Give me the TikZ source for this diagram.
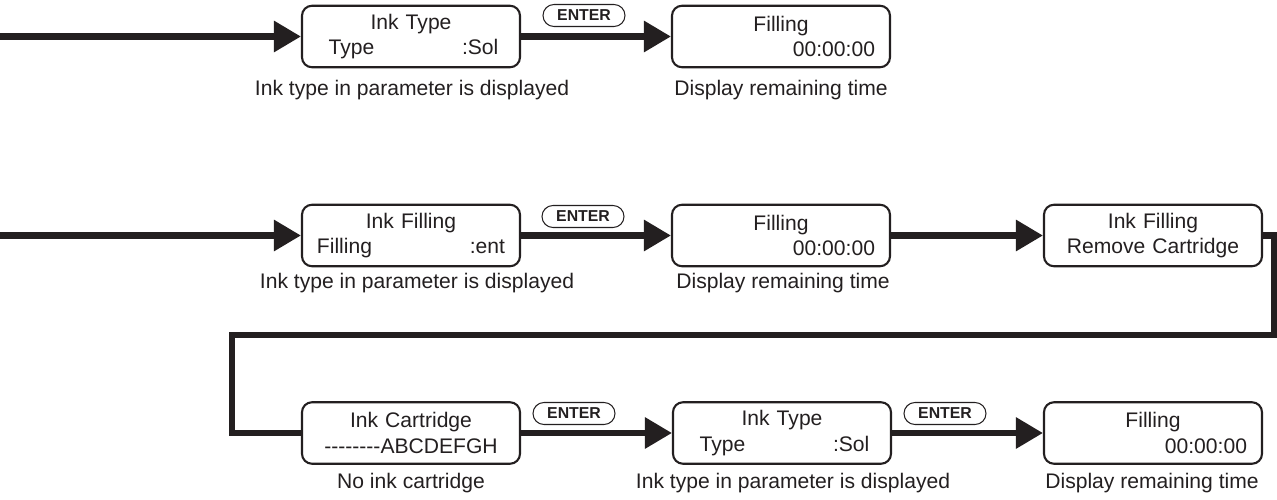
\documentclass[tikz,border=0pt]{standalone}
\usepackage{fontspec}
\setmainfont{Liberation Sans}
\usetikzlibrary{arrows.meta}
\definecolor{Ink}{HTML}{231F20}

\begin{document}
\begin{tikzpicture}[x=0.03cm,y=-0.03cm,
  panel/.style={draw=Ink,line width=1.8pt,rounded corners=0.3cm,minimum height=1.845cm,inner xsep=0.45cm,inner ysep=0pt,text width=5.64cm,align=center,text=Ink,font=\fontsize{18}{21.5}\selectfont},
  enterkey/.style={draw=Ink,line width=0.9pt,rounded corners=0.33cm,minimum width=2.46cm,minimum height=0.66cm,inner sep=0pt,text=Ink,font=\bfseries\fontsize{13.5}{13.5}\selectfont},
  note/.style={anchor=base,text=Ink,font=\fontsize{18}{21.5}\selectfont},
  flow/.style={draw=Ink,line width=5.2pt,-{Triangle[length=0.81cm,width=0.9cm]}},
  link/.style={draw=Ink,line width=5.2pt}]
\useasboundingbox (0,0) rectangle (1277,500);
% first row
\coordinate (startA) at (0,36.5);
\node[panel] (typeA) at (411,36.5) {Ink Type\\\hspace*{0.35cm}Type\hfill:Sol\hspace*{0.2cm}};
\node[panel] (fillA) at (781,36.5) {Filling\\\hfill 00:00:00};
\node[enterkey] (keyA) at (584,15.5) {ENTER};
\node[note] (noteA) at (412,95) {Ink type in parameter is displayed};
\node[note] (timeA) at (781,95) {Display remaining time};
\draw[flow] (startA) -- (typeA.west);
\draw[flow] (typeA.east) -- (fillA.west);
% second row
\coordinate (startB) at (0,235.5);
\node[panel] (inkB) at (411,235.5) {Ink Filling\\Filling\hfill:ent};
\node[panel] (fillB) at (781,235.5) {Filling\\\hfill 00:00:00};
\node[panel] (pullB) at (1153,235.5) {Ink Filling\\Remove Cartridge};
\node[enterkey] (keyB) at (583,216.5) {ENTER};
\node[note] (noteB) at (417,288) {Ink type in parameter is displayed};
\node[note] (timeB) at (783,288) {Display remaining time};
\draw[flow] (startB) -- (inkB.west);
\draw[flow] (inkB.east) -- (fillB.west);
\draw[flow] (fillB.east) -- (pullB.west);
% back round to the third row
\coordinate (turnA) at (1274,335);
\coordinate (turnB) at (232,335);
\node[panel] (cartC) at (411,433) {Ink Cartridge\\{-}{-}{-}{-}{-}{-}{-}{-}ABCDEFGH};
\node[panel] (typeC) at (782,433) {Ink Type\\\hspace*{0.35cm}Type\hfill:Sol\hspace*{0.2cm}};
\node[panel] (fillC) at (1153,433) {Filling\\\hfill 00:00:00};
\node[enterkey] (keyC) at (574,413.5) {ENTER};
\node[enterkey] (keyD) at (945,413.5) {ENTER};
\node[note] (noteC) at (411,488) {No ink cartridge};
\node[note] (noteD) at (793,488) {Ink type in parameter is displayed};
\node[note] (timeC) at (1152,488) {Display remaining time};
\draw[link] (pullB.east) -| (turnA) -- (turnB) |- (cartC.west);
\draw[flow] (cartC.east) -- (typeC.west);
\draw[flow] (typeC.east) -- (fillC.west);
\end{tikzpicture}
\end{document}
